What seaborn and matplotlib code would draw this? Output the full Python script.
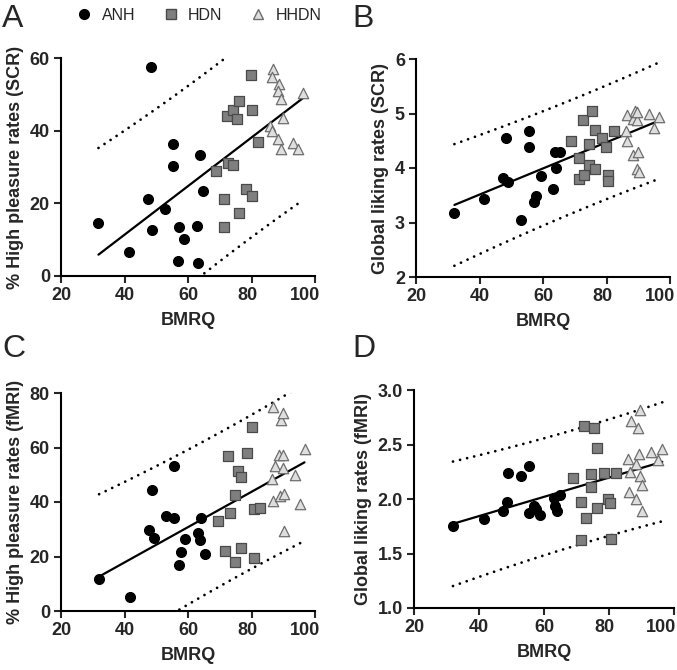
import numpy as np
import pandas as pd
import seaborn as sns
import matplotlib.pyplot as plt
import matplotlib.transforms as mtransforms
from matplotlib.lines import Line2D

groups = ["ANH", "HDN", "HHDN"]

# panel A: % high pleasure rates (SCR)
a_anh_x = [31.8, 41.3, 48.3, 47.3, 48.8, 52.7, 55.2, 55.3, 57.3, 56.8, 58.7, 62.8, 63.3, 63.8, 64.7]
a_anh_y = [14.5, 6.5, 57.5, 21.2, 12.6, 18.5, 36.3, 30.4, 13.6, 4.0, 10.1, 13.8, 3.7, 33.2, 23.3]
a_hdn_x = [68.8, 71.4, 71.4, 72.4, 72.7, 74.3, 74.3, 75.3, 76.2, 76.2, 78.4, 79.8, 80.3, 80.3, 82.2]
a_hdn_y = [28.8, 21.1, 13.6, 43.9, 31.0, 45.7, 30.6, 43.1, 48.1, 17.4, 24.0, 55.2, 45.6, 22.1, 36.8]
a_hhdn_x = [85.8, 86.3, 86.7, 86.3, 88.3, 88.8, 88.3, 89.4, 89.4, 89.9, 93.2, 94.8, 96.3]
a_hhdn_y = [41.4, 39.8, 57.1, 54.9, 37.7, 52.8, 51.0, 48.6, 34.9, 43.4, 36.6, 35.0, 50.5]

# panel B: global liking rates (SCR)
b_anh_x = [32.1, 41.4, 48.2, 47.3, 48.9, 53.0, 55.5, 55.5, 57.2, 57.8, 59.4, 63.3, 63.9, 64.0, 65.5]
b_anh_y = [3.18, 3.43, 4.55, 3.81, 3.75, 3.05, 4.68, 4.38, 3.37, 3.49, 3.86, 3.62, 4.29, 4.00, 4.29]
b_hdn_x = [68.9, 71.4, 71.4, 72.6, 73.0, 74.5, 74.5, 75.5, 76.5, 76.5, 78.6, 79.8, 80.4, 80.4, 82.5]
b_hdn_y = [4.49, 4.18, 3.79, 4.88, 3.87, 4.44, 4.06, 5.05, 4.69, 3.99, 4.55, 4.38, 3.88, 3.76, 4.68]
b_hhdn_x = [86.0, 86.4, 86.6, 88.2, 88.5, 89.1, 89.5, 89.5, 89.9, 89.5, 90.1, 93.3, 95.0, 96.5]
b_hhdn_y = [4.68, 4.98, 4.49, 4.90, 4.23, 5.04, 4.88, 5.03, 4.29, 3.99, 3.92, 4.99, 4.74, 4.94]

# panel C: % high pleasure rates (fMRI)
c_anh_x = [32.0, 41.6, 47.7, 48.6, 49.2, 53.2, 55.6, 55.7, 57.3, 57.7, 59.2, 63.2, 63.7, 64.2, 65.3]
c_anh_y = [11.6, 5.3, 29.8, 44.5, 26.7, 35.0, 53.1, 34.3, 16.8, 21.8, 26.6, 28.6, 26.1, 34.1, 20.8]
c_hdn_x = [69.3, 71.8, 72.7, 73.2, 74.8, 74.8, 75.8, 76.7, 76.7, 78.7, 80.3, 80.7, 80.7, 82.8]
c_hdn_y = [33.2, 21.9, 57.0, 35.9, 42.6, 17.9, 51.5, 49.0, 23.2, 58.0, 67.4, 37.5, 19.5, 37.9]
c_hhdn_x = [86.5, 86.7, 87.3, 86.8, 88.7, 88.9, 89.3, 89.9, 89.9, 89.8, 90.3, 90.3, 93.6, 95.3, 96.7]
c_hhdn_y = [48.3, 74.9, 53.3, 40.2, 57.4, 42.2, 70.0, 72.5, 57.1, 52.6, 43.1, 29.2, 50.0, 39.3, 59.6]

# panel D: global liking rates (fMRI)
d_anh_x = [32.0, 41.5, 47.5, 48.5, 48.9, 52.9, 55.4, 55.4, 56.9, 57.4, 58.9, 63.0, 63.3, 63.9, 64.9]
d_anh_y = [1.75, 1.82, 1.89, 1.97, 2.24, 2.21, 2.30, 1.87, 1.94, 1.91, 1.85, 2.01, 1.94, 1.89, 2.04]
d_hdn_x = [68.9, 71.3, 71.3, 72.4, 72.9, 74.4, 74.4, 75.4, 76.3, 76.3, 78.4, 79.7, 80.4, 80.5, 82.3]
d_hdn_y = [2.19, 1.97, 1.62, 2.67, 1.83, 2.23, 2.11, 2.65, 2.47, 1.92, 2.24, 2.00, 1.96, 1.63, 2.24]
d_hhdn_x = [85.7, 86.1, 86.4, 86.9, 88.3, 88.3, 88.9, 89.4, 89.3, 89.4, 90.0, 90.0, 93.0, 95.0, 96.4]
d_hhdn_y = [2.37, 2.06, 2.25, 2.72, 2.32, 2.00, 2.65, 2.82, 2.41, 2.21, 2.13, 1.89, 2.43, 2.36, 2.46]

# regression line as drawn in the figure (slope, intercept)
fit_slope = [0.669, 0.0240, 0.648, 0.00883]
fit_icpt = [-15.4, 2.552, -8.1, 1.49]
# residual sd behind the dotted 95% prediction bands
resid_sd = [13.4, 0.51, 13.8, 0.261]
t_crit = 2.02

panel_letters = ["A", "B", "C", "D"]
y_labels = ["% High pleasure rates (SCR)", "Global liking rates (SCR)",
            "% High pleasure rates (fMRI)", "Global liking rates (fMRI)"]
y_ticks = [[0, 20, 40, 60], [2, 3, 4, 5, 6], [0, 20, 40, 60, 80],
           [1.0, 1.5, 2.0, 2.5, 3.0]]
y_ticklabels = [["0", "20", "40", "60"], ["2", "3", "4", "5", "6"],
                ["0", "20", "40", "60", "80"],
                ["1.0", "1.5", "2.0", "2.5", "3.0"]]
x_ticks = [20, 40, 60, 80, 100]

panels = [
    [(a_anh_x, a_anh_y), (a_hdn_x, a_hdn_y), (a_hhdn_x, a_hhdn_y)],
    [(b_anh_x, b_anh_y), (b_hdn_x, b_hdn_y), (b_hhdn_x, b_hhdn_y)],
    [(c_anh_x, c_anh_y), (c_hdn_x, c_hdn_y), (c_hhdn_x, c_hhdn_y)],
    [(d_anh_x, d_anh_y), (d_hdn_x, d_hdn_y), (d_hhdn_x, d_hhdn_y)],
]

sns.set_style("ticks")
plt.rcParams["font.family"] = ["Liberation Sans", "DejaVu Sans"]

markers = {"ANH": "o", "HDN": "s", "HHDN": "^"}
faces = {"ANH": "black", "HDN": "#7f7f7f", "HHDN": "#dedede"}
edges = {"ANH": "black", "HDN": "#4a4a4a", "HHDN": "#6e6e6e"}
sizes = {"ANH": 50, "HDN": 46, "HHDN": 56}

fig = plt.figure(figsize=(6.77, 6.70), dpi=100)
W, H = 677, 670
# axes boxes in pixels: left, top, right, bottom
boxes = [(61, 58, 315, 276), (416, 59, 670, 277),
         (61, 393, 315, 611), (414, 390, 674, 608)]
# the last x tick labels sit a little left of their ticks in the original
label_shift = [[0, 0, 0, -4, -10], [0, 0, 0, -4, -10],
               [0, 0, 0, -4, -10], [0, 0, 0, -5, -13]]

for i, (l, t, r, b) in enumerate(boxes):
    ax = fig.add_axes([l / W, 1 - b / H, (r - l) / W, (b - t) / H])
    frames = []
    for g, (xs, ys) in zip(groups, panels[i]):
        frames.append(pd.DataFrame({"bmrq": xs, "val": ys, "group": g}))
    df = pd.concat(frames, ignore_index=True)

    # regression line + 95% prediction band
    x = df["bmrq"].to_numpy()
    n = len(x)
    sxx = np.sum((x - x.mean()) ** 2)
    xl = np.linspace(x.min(), x.max(), 60)
    fit = fit_slope[i] * xl + fit_icpt[i]
    half = t_crit * resid_sd[i] * np.sqrt(1 + 1 / n + (xl - x.mean()) ** 2 / sxx)
    lines = pd.DataFrame({"x": xl, "fit": fit, "hi": fit + half, "lo": fit - half})
    sns.lineplot(data=lines, x="x", y="fit", color="black", lw=1.6, ax=ax)
    for col in ["hi", "lo"]:
        sns.lineplot(data=lines, x="x", y=col, color="black", lw=2.0,
                     linestyle=(0, (0.01, 2.6)), dash_capstyle="round", ax=ax)

    for g in groups:
        sub = df[df["group"] == g]
        sns.scatterplot(data=sub, x="bmrq", y="val", marker=markers[g],
                        color=faces[g], edgecolor=edges[g], linewidth=0.9,
                        s=sizes[g], ax=ax, zorder=3, clip_on=False)

    ax.set_xlim(20, 100)
    ax.set_ylim(y_ticks[i][0], y_ticks[i][-1])
    ax.set_xticks(x_ticks)
    ax.set_xticklabels([str(v) for v in x_ticks], fontsize=13, fontweight="bold")
    ax.set_yticks(y_ticks[i])
    ax.set_yticklabels(y_ticklabels[i], fontsize=13, fontweight="bold")
    ax.tick_params(width=1.5, length=5, pad=3)
    for tick, dx in zip(ax.xaxis.get_major_ticks(), label_shift[i]):
        tick.label1.set_transform(tick.label1.get_transform() +
                                  mtransforms.ScaledTranslation(dx / 100, 0, fig.dpi_scale_trans))
    for sp in ["left", "bottom"]:
        ax.spines[sp].set_linewidth(1.5)
        ax.spines[sp].set_color("black")
    sns.despine(ax=ax)
    ax.set_xlabel("BMRQ", fontsize=13, fontweight="bold", labelpad=6)
    ax.set_ylabel(y_labels[i], fontsize=13, fontweight="bold", labelpad=4)

# panel letters
letter_pos = [(2, 4), (352, 4), (2, 334), (352, 334)]
for lt, (px, py) in zip(panel_letters, letter_pos):
    fig.text(px / W, 1 - py / H, lt, fontsize=23, va="top", ha="left")

handles = [Line2D([], [], marker=markers[g], linestyle="none", markersize=7,
                  markerfacecolor=faces[g], markeredgecolor=edges[g], label=g)
           for g in groups]
fig.legend(handles=handles, loc="center", ncol=3, frameon=False,
           bbox_to_anchor=(198 / W, 1 - 15 / H), fontsize=11.5,
           handletextpad=0.5, columnspacing=1.6, handlelength=1.2)

fig.savefig("out.png", dpi=100)
